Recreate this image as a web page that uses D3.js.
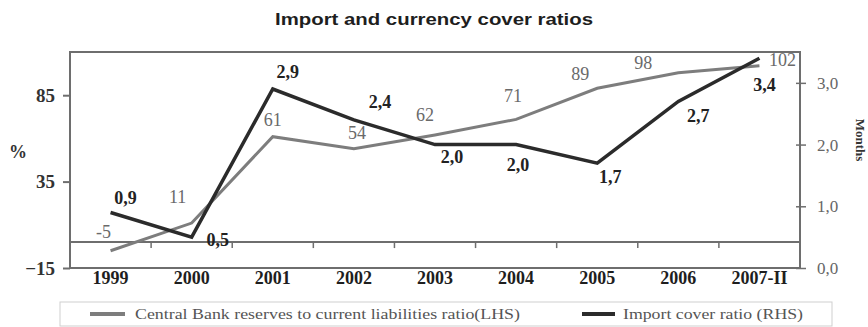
<!DOCTYPE html>
<html>
<head>
<meta charset="utf-8">
<script src="https://cdn.jsdelivr.net/npm/d3@7/dist/d3.min.js"></script>
<style>
  html, body { margin: 0; padding: 0; background: #fff; }
  svg { display: block; }
</style>
</head>
<body>
<svg id="chart" width="868" height="327"></svg>
<script>
// ---- data ----
const categories = ["1999", "2000", "2001", "2002", "2003", "2004", "2005", "2006", "2007-II"];
const reservesRatio = [-5, 11, 61, 54, 62, 71, 89, 98, 102];        // LHS, %
const importCover = [0.9, 0.5, 2.9, 2.4, 2.0, 2.0, 1.7, 2.7, 3.4];   // RHS, months
const leftTicks = [-15, 35, 85];
const rightTicks = [0, 1, 2, 3];
const seriesNames = ["Central Bank reserves to current liabilities ratio(LHS)", "Import cover ratio (RHS)"];
const titleText = "Import and currency cover ratios";

// ---- layout (label nudges, px) ----
const greyLabelNudge = [[-7,-19],[-14,-26],[0,-17],[3,-16],[-10,-20],[-3,-24],[-17,-15],[-35,-10],[23,-6]];
const blackLabelNudge = [[15,-15],[26,3],[15,-17],[26,-18],[17,12],[2,20],[13,14],[20,14],[5,27]];

const svg = d3.select("#chart");
const L = 70, R = 800, T = 52, B = 268;
const serif = "'Liberation Serif','Times New Roman',serif";
const sans = "'Liberation Sans',Arial,sans-serif";
const GREY = "#7d7d7d", DARK = "#2b2b2b", AX = "#6e6e6e";

const x = d3.scaleBand().domain(categories).range([L, R]);
const yL = d3.scaleLinear().domain([-15, 110]).range([B, T]);
const yR = d3.scaleLinear().domain([0, 3.5]).range([B, T]);
const cx = c => x(c) + x.bandwidth() / 2;

// title
svg.append("text").attr("x", 434).attr("y", 25).attr("text-anchor", "middle")
  .attr("font-family", sans).attr("font-weight", "bold").attr("font-size", 16).attr("fill", "#1e1e1e")
  .attr("textLength", 318).attr("lengthAdjust", "spacingAndGlyphs").text(titleText);

// plot frame
svg.append("rect").attr("x", L).attr("y", T).attr("width", R - L).attr("height", B - T)
  .attr("fill", "none").attr("stroke", AX).attr("stroke-width", 2);

// zero line with category ticks
const y0 = yL(0);
svg.append("line").attr("x1", L).attr("x2", R).attr("y1", y0).attr("y2", y0)
  .attr("stroke", AX).attr("stroke-width", 2);
svg.append("g").selectAll("line").data(categories.slice(1)).join("line")
  .attr("x1", d => x(d)).attr("x2", d => x(d)).attr("y1", y0).attr("y2", y0 + 6)
  .attr("stroke", AX).attr("stroke-width", 1.5);

// left axis
const gL = svg.append("g").attr("transform", `translate(${L},0)`)
  .call(d3.axisLeft(yL).tickValues(leftTicks).tickSize(7).tickPadding(8));
gL.select(".domain").remove();
gL.selectAll(".tick line").attr("stroke", AX).attr("stroke-width", 2);
gL.selectAll(".tick text").attr("font-family", serif).attr("font-weight", "bold")
  .attr("font-size", 19).attr("fill", "#333");

// right axis
const gR = svg.append("g").attr("transform", `translate(${R},0)`)
  .call(d3.axisRight(yR).tickValues(rightTicks).tickSize(6).tickPadding(11)
    .tickFormat(d => d.toFixed(1).replace(".", ",")));
gR.select(".domain").remove();
gR.selectAll(".tick line").attr("x1", -4).attr("stroke", AX).attr("stroke-width", 1.5);
gR.selectAll(".tick text").attr("font-family", serif).attr("font-size", 17).attr("fill", "#666");

// x labels
svg.append("g").selectAll("text").data(categories).join("text")
  .attr("x", d => cx(d)).attr("y", 284).attr("text-anchor", "middle")
  .attr("font-family", serif).attr("font-weight", "bold").attr("font-size", 18).attr("fill", "#1e1e1e")
  .text(d => d);

// axis titles
svg.append("text").attr("x", 18).attr("y", 158).attr("text-anchor", "middle")
  .attr("font-family", serif).attr("font-weight", "bold").attr("font-size", 18).attr("fill", "#333").text("%");
svg.append("text").attr("transform", "translate(856,140) rotate(90)").attr("text-anchor", "middle")
  .attr("font-family", serif).attr("font-weight", "bold").attr("font-size", 13).attr("fill", "#333").text("Months");

// lines
const lineL = d3.line().x((d, i) => cx(categories[i])).y(d => yL(d));
const lineR = d3.line().x((d, i) => cx(categories[i])).y(d => yR(d));
svg.append("path").datum(reservesRatio).attr("d", lineL).attr("fill", "none")
  .attr("stroke", GREY).attr("stroke-width", 3).attr("stroke-linejoin", "miter");
svg.append("path").datum(importCover).attr("d", lineR).attr("fill", "none")
  .attr("stroke", DARK).attr("stroke-width", 3.5).attr("stroke-linejoin", "miter");

// data labels
svg.append("g").selectAll("text").data(reservesRatio).join("text")
  .attr("x", (d, i) => cx(categories[i]) + greyLabelNudge[i][0])
  .attr("y", (d, i) => yL(d) + greyLabelNudge[i][1]).attr("dy", "0.35em")
  .attr("text-anchor", "middle").attr("font-family", serif).attr("font-size", 18).attr("fill", "#6a6a6a")
  .text(d => d);
svg.append("g").selectAll("text").data(importCover).join("text")
  .attr("x", (d, i) => cx(categories[i]) + blackLabelNudge[i][0])
  .attr("y", (d, i) => yR(d) + blackLabelNudge[i][1]).attr("dy", "0.35em")
  .attr("text-anchor", "middle").attr("font-family", serif).attr("font-weight", "bold").attr("font-size", 18).attr("fill", "#222")
  .text(d => d.toFixed(1).replace(".", ","));

// legend
const lg = svg.append("g");
lg.append("rect").attr("x", 60).attr("y", 302).attr("width", 772).attr("height", 24)
  .attr("fill", "none").attr("stroke", "#cfcfcf").attr("stroke-width", 1);
const legendItems = [
  { name: seriesNames[0], color: GREY, x1: 90, x2: 125, tx: 135, tl: 385 },
  { name: seriesNames[1], color: DARK, x1: 582, x2: 615, tx: 623, tl: 180 }
];
legendItems.forEach(it => {
  lg.append("line").attr("x1", it.x1).attr("x2", it.x2).attr("y1", 314).attr("y2", 314)
    .attr("stroke", it.color).attr("stroke-width", 4);
  lg.append("text").attr("x", it.tx).attr("y", 319).attr("font-family", serif).attr("font-size", 15)
    .attr("fill", "#555").attr("textLength", it.tl).attr("lengthAdjust", "spacingAndGlyphs").text(it.name);
});
</script>
</body>
</html>
